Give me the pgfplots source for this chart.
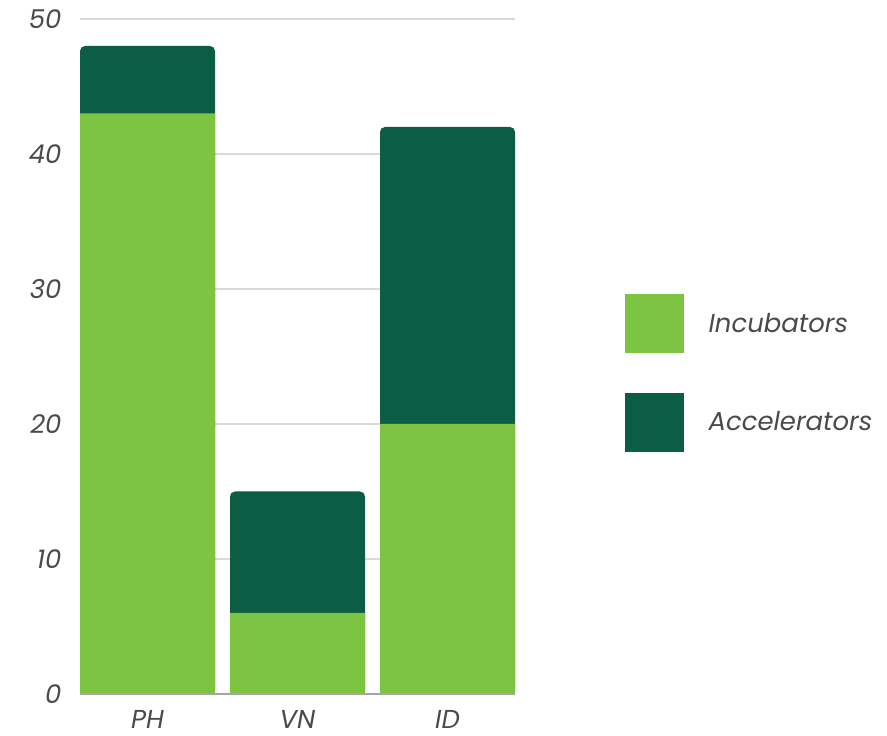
\documentclass[border=0pt]{standalone}
\usepackage{pgfplots}
\pgfplotsset{compat=1.18}
\usepackage{fontspec}
\setmainfont{Poppins}
\definecolor{lightg}{HTML}{7DC443}
\definecolor{darkg}{HTML}{0B5E43}
\definecolor{txt}{HTML}{4A4A4A}
\definecolor{gridc}{HTML}{DADADA}
\begin{document}
\begin{tikzpicture}
\path[use as bounding box] (0,0) rectangle (887bp,736bp);
\begin{axis}[
  at={(80bp,42bp)}, anchor=south west,
  scale only axis, width=435bp, height=675bp,
  xmin=-0.45, xmax=2.45, ymin=0, ymax=50,
  xtick={0,1,2}, xticklabels={PH,VN,ID},
  ytick={0,10,20,30,40,50},
  axis line style={draw=none},
  ymajorgrids, grid style={gridc, line width=1.5bp},
  major tick length=0pt,
  /pgf/number format/assume math mode=true,
  ticklabel style={font=\fontsize{26}{30}\selectfont\itshape, text=txt},
  yticklabel style={anchor=east, xshift=-15bp},
  xticklabel style={anchor=north, yshift=-13bp},
  legend style={at={(1.2529,0.5926)}, anchor=north west, draw=none, inner sep=0pt,
    font=\fontsize{26}{30}\selectfont\itshape, text=txt,
    nodes={inner sep=0pt, anchor=west}, column sep=25bp, row sep=40bp},
  legend cell align=left,
  legend image code/.code={\fill[#1] (0bp,-29bp) rectangle (58bp,29bp);},
  clip=false,
]
\addlegendimage{lightg}
\addlegendentry{Incubators}
\addlegendimage{darkg}
\addlegendentry{Accelerators}
% totals (dark, rounded tops)
\addplot[ybar, bar width=0.9, bar shift=0pt, fill=darkg, draw=none, rounded corners=5bp, forget plot]
  coordinates {(0,48) (1,15) (2,42)};
% incubators
\addplot[ybar, bar width=0.9, bar shift=0pt, fill=lightg, draw=none, forget plot]
  coordinates {(0,43) (1,6) (2,20)};
\draw[color=black!35, line width=1.5bp] (axis cs:-0.45,0) -- (axis cs:2.45,0);
\end{axis}
\end{tikzpicture}
\end{document}
